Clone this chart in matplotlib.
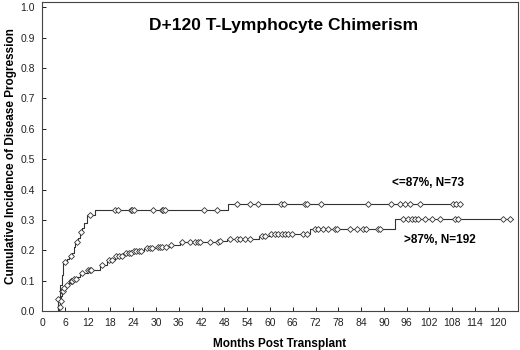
import numpy as np
import matplotlib
matplotlib.use('Agg')
import matplotlib.pyplot as plt

# --- data (months, cumulative incidence) ---
low_times = [4.0, 4.3, 4.7, 5.2, 5.6, 6.5, 7.2, 7.8, 8.4, 8.7, 9.5, 10.0, 10.4,
             11.0, 11.9, 13.9, 49.0, 110.0]
low_vals = [0.0, 0.04, 0.085, 0.12, 0.162, 0.173, 0.18, 0.19, 0.21, 0.228, 0.24,
            0.26, 0.272, 0.29, 0.318, 0.333, 0.352, 0.352]
low_cens = [4.3, 6.05, 7.5, 9.3, 10.2, 12.5, 19.2, 20.0, 23.3, 23.7, 24.2, 29.3,
            31.5, 31.9, 32.4, 42.5, 46.1, 51.2, 54.7, 56.9, 63.0, 63.7, 69.2,
            69.7, 73.4, 85.7, 91.8, 94.2, 95.5, 96.8, 99.5, 108.2, 109.1, 110.0]

high_times = [4.3, 4.5, 4.8, 5.0, 5.2, 5.6, 6.2, 7.0, 7.4, 8.2, 9.1, 10.0, 12.0,
              15.3, 17.0, 19.2, 21.4, 24.0, 26.7, 30.2, 33.7, 36.3, 46.8, 48.6,
              57.0, 60.4, 70.5, 92.9, 124.0]
high_vals = [0.0, 0.015, 0.035, 0.05, 0.065, 0.075, 0.085, 0.092, 0.098, 0.105,
             0.113, 0.126, 0.137, 0.151, 0.168, 0.181, 0.19, 0.197, 0.208, 0.212,
             0.217, 0.226, 0.231, 0.236, 0.247, 0.255, 0.271, 0.302, 0.302]
high_cens = [4.6, 4.9, 5.3, 5.5, 5.8, 6.5, 7.5, 7.8, 8.0, 8.5, 8.8, 10.5, 12.2,
             12.6, 13.0, 15.8, 17.5, 18.5, 19.5, 20.3, 21.0, 22.0, 23.0, 23.5,
             24.2, 24.8, 25.5, 26.0, 27.5, 28.3, 29.0, 30.5, 31.0, 31.5, 32.5,
             34.0, 36.8, 38.9, 40.3, 41.1, 41.6, 44.2, 46.4, 46.8, 49.5, 51.2,
             52.1, 53.4, 54.7, 57.8, 58.7, 60.4, 61.3, 62.2, 63.1, 63.9, 64.8,
             65.7, 68.8, 69.7, 71.8, 72.7, 74.0, 75.3, 77.1, 77.6, 81.0, 82.8,
             84.6, 85.4, 88.5, 88.9, 95.1, 96.4, 97.3, 98.2, 99.0, 100.8, 102.6,
             104.7, 108.7, 109.6, 121.4, 123.2]

labels = ['<=87%, N=73', '>87%, N=192']
title = 'D+120 T-Lymphocyte Chimerism'


def step_value(times, vals, t):
    # value of the post-step curve at time t
    idx = np.searchsorted(times, t, side='right') - 1
    return np.asarray(vals)[np.clip(idx, 0, len(vals) - 1)]


plt.rcParams['font.family'] = ['Liberation Sans', 'DejaVu Sans']
fig = plt.figure(figsize=(5.2, 3.5), dpi=100)
ax = fig.add_axes([0.081, 0.111, 0.915, 0.884])

line_col = '#333333'
for times, vals, cens in [(low_times, low_vals, low_cens),
                          (high_times, high_vals, high_cens)]:
    ax.step(times, vals, where='post', color=line_col, lw=0.8)
    cy = step_value(times, vals, np.array(cens))
    ax.plot(cens, cy, ls='none', marker='D', ms=3.0, mfc='white',
            mec=line_col, mew=0.6)

ax.text(101.6, 0.42, labels[0], ha='center', va='center', fontsize=8.5,
        fontweight='bold')
ax.text(104.7, 0.233, labels[1], ha='center', va='center', fontsize=8.5,
        fontweight='bold')
ax.text(63.7, 0.94, title, ha='center', va='center', fontsize=12.5,
        fontweight='bold')

ax.set_xlim(0, 125.3)
ax.set_ylim(0, 1.018)
ax.set_xticks(np.arange(0, 121, 6))
ax.set_yticks(np.arange(0, 1.01, 0.1))
ax.set_yticklabels([f'{v:.1f}' for v in np.arange(0, 1.01, 0.1)])
ax.tick_params(direction='in', length=3, width=0.7, labelsize=7.5,
               colors='#222222')
ax.tick_params(axis='x', pad=5)
ax.tick_params(axis='y', pad=5)
for s in ax.spines.values():
    s.set_color('#444444')
    s.set_linewidth(0.8)

ax.set_xlabel('Months Post Transplant', fontsize=8.5, fontweight='bold',
              labelpad=7)
ax.set_ylabel('Cumulative Incidence of Disease Progression', fontsize=8.5,
              fontweight='bold', labelpad=3)

fig.savefig('out.png', dpi=100)
